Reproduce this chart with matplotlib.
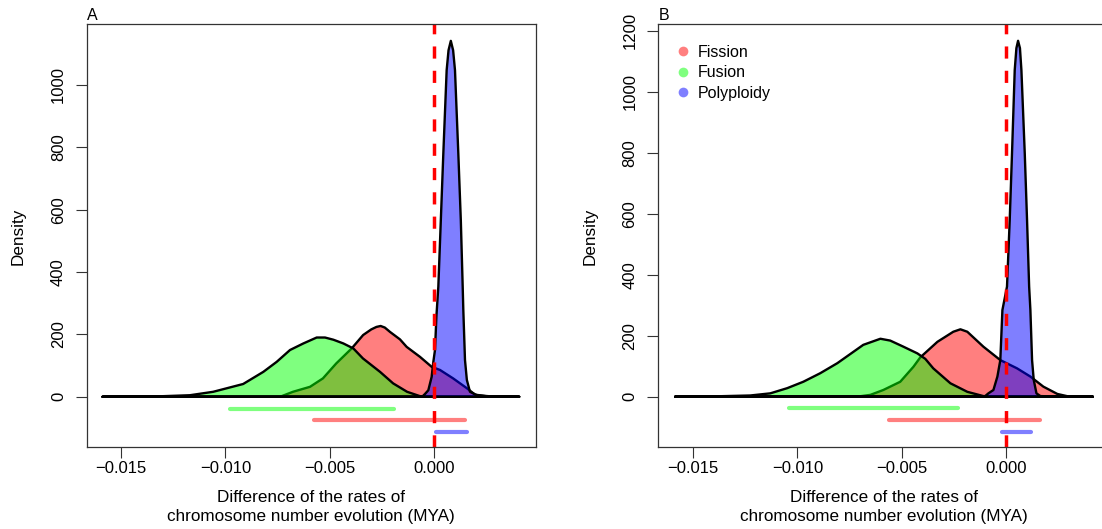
import matplotlib.pyplot as plt
from matplotlib.lines import Line2D

plt.rcParams['font.family'] = ['Liberation Sans', 'DejaVu Sans']
plt.rcParams['font.size'] = 11.5

# ---- panel A : posterior densities of rate differences ----
fission_x_a = [-0.0159, -0.00738, -0.00676, -0.00594, -0.00532, -0.00468, -0.00394, -0.00339,
               -0.00300, -0.00275, -0.00255, -0.00235, -0.00210, -0.00162, -0.00130, -0.00066,
               -0.00010, 0.00030, 0.00093, 0.00160, 0.00198, 0.0027, 0.0041]
fission_y_a = [0, 0, 16, 32, 59, 107, 155, 198, 216, 224, 227, 222, 208, 184, 160, 128,
               96, 86, 59, 27, 7, 0, 0]

fusion_x_a = [-0.01586, -0.01315, -0.01171, -0.01059, -0.00915, -0.00818, -0.00754, -0.00690,
              -0.00626, -0.00562, -0.00522, -0.00482, -0.00434, -0.00386, -0.00340, -0.00258,
              -0.00195, -0.00128, -0.00066, 0.00030, 0.0041]
fusion_y_a = [0, 1.6, 5, 16, 41, 80, 112, 150, 171, 190, 190, 183, 171, 155, 123, 80,
              43, 16, 2, 0, 0]

poly_x_a = [-0.0159, -0.00056, -0.00042, -0.00026, -0.00010, -0.00003, 0.00006, 0.00013,
            0.00022, 0.00034, 0.00046, 0.00062, 0.00071, 0.00082, 0.00093, 0.00102, 0.00118,
            0.00130, 0.00139, 0.00142, 0.00150, 0.00159, 0.00174, 0.00207, 0.0027, 0.0041]
poly_y_a = [0, 0, 9, 21, 64, 107, 150, 260, 353, 566, 780, 1047, 1111, 1141, 1111, 1047, 780,
            566, 353, 278, 118, 54, 16, 5, 1.6, 0]

# 95% intervals (lower, upper) and the height they are drawn at
hpd_a = {'Fusion': (-0.0098, -0.0019, -38),
         'Fission': (-0.00573, 0.00149, -76),
         'Polyploidy': (0.0001, 0.00158, -114)}

# ---- panel B ----
fission_x_b = [-0.01585, -0.00715, -0.00651, -0.00589, -0.00508, -0.00445, -0.00412, -0.00330,
               -0.00254, -0.00220, -0.00187, -0.00110, -0.00029, 0.00051, 0.00115, 0.00177,
               0.00244, 0.00292, 0.0035, 0.00413]
fission_y_b = [0, 0, 6, 22, 49, 98, 129, 180, 213, 221, 213, 164, 120, 93, 66, 33,
               9, 1.6, 0, 0]

fusion_x_b = [-0.01585, -0.01370, -0.01226, -0.01130, -0.01049, -0.00972, -0.00891, -0.00809,
              -0.00747, -0.00685, -0.00603, -0.00556, -0.00493, -0.00426, -0.00388, -0.00350,
              -0.00268, -0.00187, -0.00110, -0.0003, 0.00413]
fusion_y_b = [0, 1.6, 4, 11, 28, 49, 77, 110, 140, 170, 190, 184, 164, 142, 124, 93,
              44, 16, 2, 0, 0]

poly_x_b = [-0.01585, -0.00105, -0.00086, -0.00062, -0.00043, -0.00029, -0.00019, 0.00003,
            0.00016, 0.00027, 0.00040, 0.00048, 0.00056, 0.00065, 0.00072, 0.00088, 0.00099,
            0.00109, 0.00115, 0.00123, 0.00131, 0.00144, 0.00163, 0.0026, 0.00413]
poly_y_b = [0, 0, 11, 22, 66, 120, 284, 361, 579, 798, 1071, 1143, 1167, 1143, 1071, 798, 579,
            361, 284, 120, 55, 11, 2, 0, 0]

hpd_b = {'Fusion': (-0.0104, -0.0023, -38),
         'Fission': (-0.0056, 0.0016, -77),
         'Polyploidy': (-0.0002, 0.0012, -117)}

cols = {'Fission': (1, 0, 0, 0.5), 'Fusion': (0, 1, 0, 0.5), 'Polyploidy': (0, 0, 1, 0.5)}

xticks = [-0.015, -0.010, -0.005, 0.000]
xtick_labels = ['\u22120.015', '\u22120.010', '\u22120.005', '0.000']
xlab = 'Difference of the rates of\nchromosome number evolution (MYA)'


def draw_panel(ax, curves, hpd, letter, yticks, ylim):
    # fission first, then fusion, polyploidy on top (translucent fills)
    for name, xs, ys in curves:
        ax.fill(xs, ys, facecolor=cols[name], edgecolor='black', lw=1.7, joinstyle='round')
    for name, (lo, hi, yy) in hpd.items():
        ax.plot([lo, hi], [yy, yy], color=cols[name], lw=3, solid_capstyle='round')
    ax.axvline(0, color='red', lw=2.5, dashes=(3.5, 3.5))

    ax.set_xlim(-0.01666, 0.00491)
    ax.set_ylim(*ylim)
    ax.set_xticks(xticks)
    ax.set_xticklabels(xtick_labels)
    ax.set_yticks(yticks)
    ax.set_yticklabels([str(v) for v in yticks])
    for lab in ax.get_yticklabels():
        lab.set_rotation(90)
        lab.set_va('center')
    ax.tick_params(direction='out', length=8, width=0.8, color='#333333', labelsize=12)
    ax.tick_params(axis='x', pad=2)
    ax.tick_params(axis='y', pad=7)
    for sp in ax.spines.values():
        sp.set_color('#333333')
        sp.set_linewidth(0.9)

    ax.set_xlabel(xlab, linespacing=1.36, fontsize=12.3)
    ax.xaxis.set_label_coords(0.5, -0.101)
    ax.set_ylabel('Density', fontsize=12.3)
    ax.yaxis.set_label_coords(-0.135, 0.5)
    ax.set_title(letter, loc='left', pad=3, fontsize=11.5)


fig = plt.figure(figsize=(11.02, 5.29), dpi=100)
ax_a = fig.add_axes([0.0787, 0.1544, 0.4077, 0.7996])
ax_b = fig.add_axes([0.5974, 0.1544, 0.4089, 0.7996])

draw_panel(ax_a,
           [('Fission', fission_x_a, fission_y_a),
            ('Fusion', fusion_x_a, fusion_y_a),
            ('Polyploidy', poly_x_a, poly_y_a)],
           hpd_a, 'A', [0, 200, 400, 600, 800, 1000], (-162, 1194))

draw_panel(ax_b,
           [('Fission', fission_x_b, fission_y_b),
            ('Fusion', fusion_x_b, fusion_y_b),
            ('Polyploidy', poly_x_b, poly_y_b)],
           hpd_b, 'B', [0, 200, 400, 600, 800, 1000, 1200], (-166, 1221))

handles = [Line2D([], [], ls='', marker='o', markersize=7, markeredgewidth=0,
                  color=cols[n]) for n in ['Fission', 'Fusion', 'Polyploidy']]
ax_b.legend(handles, ['Fission', 'Fusion', 'Polyploidy'], loc='upper left',
            bbox_to_anchor=(0.041, 0.951), frameon=False, borderpad=0, borderaxespad=0,
            handlelength=0.8, handletextpad=0.5, labelspacing=0.33)

fig.savefig('out.png', dpi=100)
